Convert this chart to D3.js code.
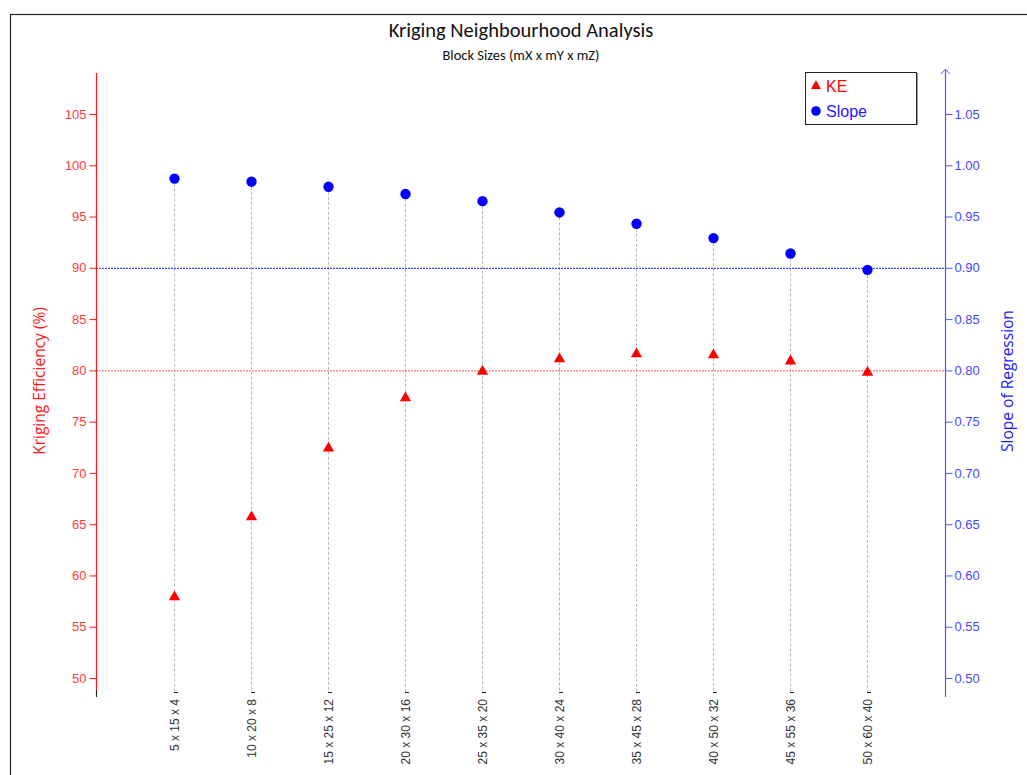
<!DOCTYPE html>
<html>
<head>
<meta charset="utf-8">
<script src="https://cdn.jsdelivr.net/npm/d3@7"></script>
<style>
  html, body { margin: 0; padding: 0; background: #fff; }
  svg { display: block; }
</style>
</head>
<body>
<svg id="chart" width="1027" height="775"></svg>
<script>
// Block sizes tested in the neighbourhood analysis
const blockSizes = ["5 x 15 x 4", "10 x 20 x 8", "15 x 25 x 12", "20 x 30 x 16", "25 x 35 x 20",
                    "30 x 40 x 24", "35 x 45 x 28", "40 x 50 x 32", "45 x 55 x 36", "50 x 60 x 40"];
// Kriging efficiency (%) per block size
const keValues = [57.9, 65.7, 72.4, 77.3, 79.9, 81.1, 81.6, 81.5, 80.9, 79.8];
// Slope of regression per block size
const slopeValues = [0.987, 0.984, 0.979, 0.972, 0.965, 0.954, 0.943, 0.929, 0.914, 0.898];
// Axis ticks and reference thresholds
const keTicks = [50, 55, 60, 65, 70, 75, 80, 85, 90, 95, 100, 105];
const slopeTicks = [0.50, 0.55, 0.60, 0.65, 0.70, 0.75, 0.80, 0.85, 0.90, 0.95, 1.00, 1.05];
const keThreshold = 80;
const slopeThreshold = 0.90;

const svg = d3.select("#chart");
const red = "#ff1a1a", redText = "#ff3b3b", blue = "#1a1aff", blueAxis = "#5555ff", blueText = "#4747ff";
const font = "'Liberation Sans', Arial, sans-serif";
const titleFont = "Carlito, 'Open Sans', sans-serif";

const left = 96, right = 945, bottom = 692;

// Outer frame
svg.append("rect").attr("x", 10.5).attr("y", 14.5).attr("width", 1030).attr("height", 780)
  .attr("fill", "none").attr("stroke", "#222").attr("stroke-width", 1.2);

const x = d3.scalePoint().domain(blockSizes).range([174, 867]);
const yKE = d3.scaleLinear().domain([50, 105]).range([678, 114]);
const ySlope = d3.scaleLinear().domain([0.50, 1.05]).range([678, 114]);

// Titles
svg.append("text").attr("x", 521).attr("y", 37).attr("text-anchor", "middle")
  .attr("font-family", titleFont).attr("font-size", 20.5).attr("fill", "#111")
  .text("Kriging Neighbourhood Analysis");
svg.append("text").attr("x", 521).attr("y", 60).attr("text-anchor", "middle")
  .attr("font-family", titleFont).attr("font-size", 14.5).attr("fill", "#111")
  .text("Block Sizes (mX x mY x mZ)");

// Vertical guide lines from each slope point down to the base
svg.append("g").selectAll("line").data(blockSizes).join("line")
  .attr("x1", d => x(d) + 0.5).attr("x2", d => x(d) + 0.5)
  .attr("y1", (d, i) => ySlope(slopeValues[i])).attr("y2", bottom)
  .attr("stroke", "#b8b8b8").attr("stroke-width", 1).attr("stroke-dasharray", "3,2");

// Threshold lines
svg.append("line").attr("x1", left).attr("x2", right)
  .attr("y1", ySlope(slopeThreshold) + 0.5).attr("y2", ySlope(slopeThreshold) + 0.5)
  .attr("stroke", blue).attr("stroke-width", 1).attr("stroke-dasharray", "2,1");
svg.append("line").attr("x1", left).attr("x2", right)
  .attr("y1", yKE(keThreshold) + 0.5).attr("y2", yKE(keThreshold) + 0.5)
  .attr("stroke", "#ff5555").attr("stroke-width", 1).attr("stroke-dasharray", "2,1");

// Left axis (kriging efficiency)
const leftAxis = svg.append("g").attr("transform", `translate(${left + 0.5},0)`)
  .call(d3.axisLeft(yKE).tickValues(keTicks).tickSize(7).tickPadding(3).tickFormat(d3.format("d")));
leftAxis.select(".domain").remove();
leftAxis.selectAll(".tick line").attr("stroke", red);
leftAxis.selectAll(".tick text").attr("fill", redText).attr("font-family", font).attr("font-size", 13);
svg.append("line").attr("x1", left + 0.5).attr("x2", left + 0.5).attr("y1", 73).attr("y2", 690)
  .attr("stroke", red).attr("stroke-width", 1.2);
svg.append("line").attr("x1", left + 0.5).attr("x2", left + 0.5).attr("y1", 690).attr("y2", 697)
  .attr("stroke", "#222").attr("stroke-width", 1.2);

// Right axis (slope of regression)
const rightAxis = svg.append("g").attr("transform", `translate(${right + 0.5},0)`)
  .call(d3.axisRight(ySlope).tickValues(slopeTicks).tickSize(7).tickPadding(2).tickFormat(d3.format(".2f")));
rightAxis.select(".domain").remove();
rightAxis.selectAll(".tick line").attr("stroke", blueAxis);
rightAxis.selectAll(".tick text").attr("fill", blueText).attr("font-family", font).attr("font-size", 13);
svg.append("line").attr("x1", right + 0.5).attr("x2", right + 0.5).attr("y1", 70).attr("y2", 690)
  .attr("stroke", blueAxis).attr("stroke-width", 1.2);
svg.append("line").attr("x1", right + 0.5).attr("x2", right + 0.5).attr("y1", 690).attr("y2", 697)
  .attr("stroke", "#666").attr("stroke-width", 1.2);
svg.append("path").attr("d", `M${right - 4},74 L${right + 0.5},69 L${right + 5},74`)
  .attr("fill", "none").attr("stroke", blueAxis).attr("stroke-width", 1);

// Category ticks and rotated labels
const xg = svg.append("g");
xg.selectAll("line").data(blockSizes).join("line")
  .attr("x1", d => x(d)).attr("x2", d => x(d) + 4)
  .attr("y1", bottom + 0.5).attr("y2", bottom + 0.5)
  .attr("stroke", "#222").attr("stroke-width", 1);
xg.selectAll("text").data(blockSizes).join("text")
  .attr("transform", d => `translate(${x(d) + 4.5},699) rotate(-90)`)
  .attr("text-anchor", "end")
  .attr("font-family", font).attr("font-size", 12).attr("fill", "#333")
  .text(d => d);

// Axis titles
svg.append("text").attr("transform", "translate(45,381) rotate(-90)").attr("text-anchor", "middle")
  .attr("font-family", "'Open Sans', sans-serif").attr("font-size", 15.5).attr("fill", red)
  .text("Kriging Efficiency (%)");
svg.append("text").attr("transform", "translate(1013,381) rotate(-90)").attr("text-anchor", "middle")
  .attr("font-family", "'Open Sans', sans-serif").attr("font-size", 15.5).attr("fill", blue)
  .text("Slope of Regression");

// Markers
const tri = d3.symbol().type(d3.symbolTriangle).size(56);
svg.append("g").selectAll("path").data(keValues).join("path")
  .attr("transform", (d, i) => `translate(${x(blockSizes[i]) + 0.5},${yKE(d)})`)
  .attr("d", tri).attr("fill", "#ff0000");
svg.append("g").selectAll("circle").data(slopeValues).join("circle")
  .attr("cx", (d, i) => x(blockSizes[i]) + 0.5).attr("cy", d => ySlope(d))
  .attr("r", 5.2).attr("fill", "#0000ff");

// Legend
const lg = svg.append("g");
lg.append("rect").attr("x", 805.5).attr("y", 72.5).attr("width", 111).attr("height", 52)
  .attr("fill", "#fff").attr("stroke", "#222").attr("stroke-width", 1);
lg.append("line").attr("x1", 917.5).attr("x2", 917.5).attr("y1", 73).attr("y2", 125)
  .attr("stroke", "#999").attr("stroke-width", 1);
lg.append("path").attr("transform", "translate(816,86)").attr("d", d3.symbol().type(d3.symbolTriangle).size(44)).attr("fill", "#ff0000");
lg.append("text").attr("x", 826).attr("y", 92).attr("font-family", font).attr("font-size", 16)
  .attr("fill", "#ff0000").text("KE");
lg.append("circle").attr("cx", 816).attr("cy", 111).attr("r", 4.8).attr("fill", "#0000ff");
lg.append("text").attr("x", 826).attr("y", 117).attr("font-family", font).attr("font-size", 16)
  .attr("fill", "#1a1aff").text("Slope");
</script>
</body>
</html>
